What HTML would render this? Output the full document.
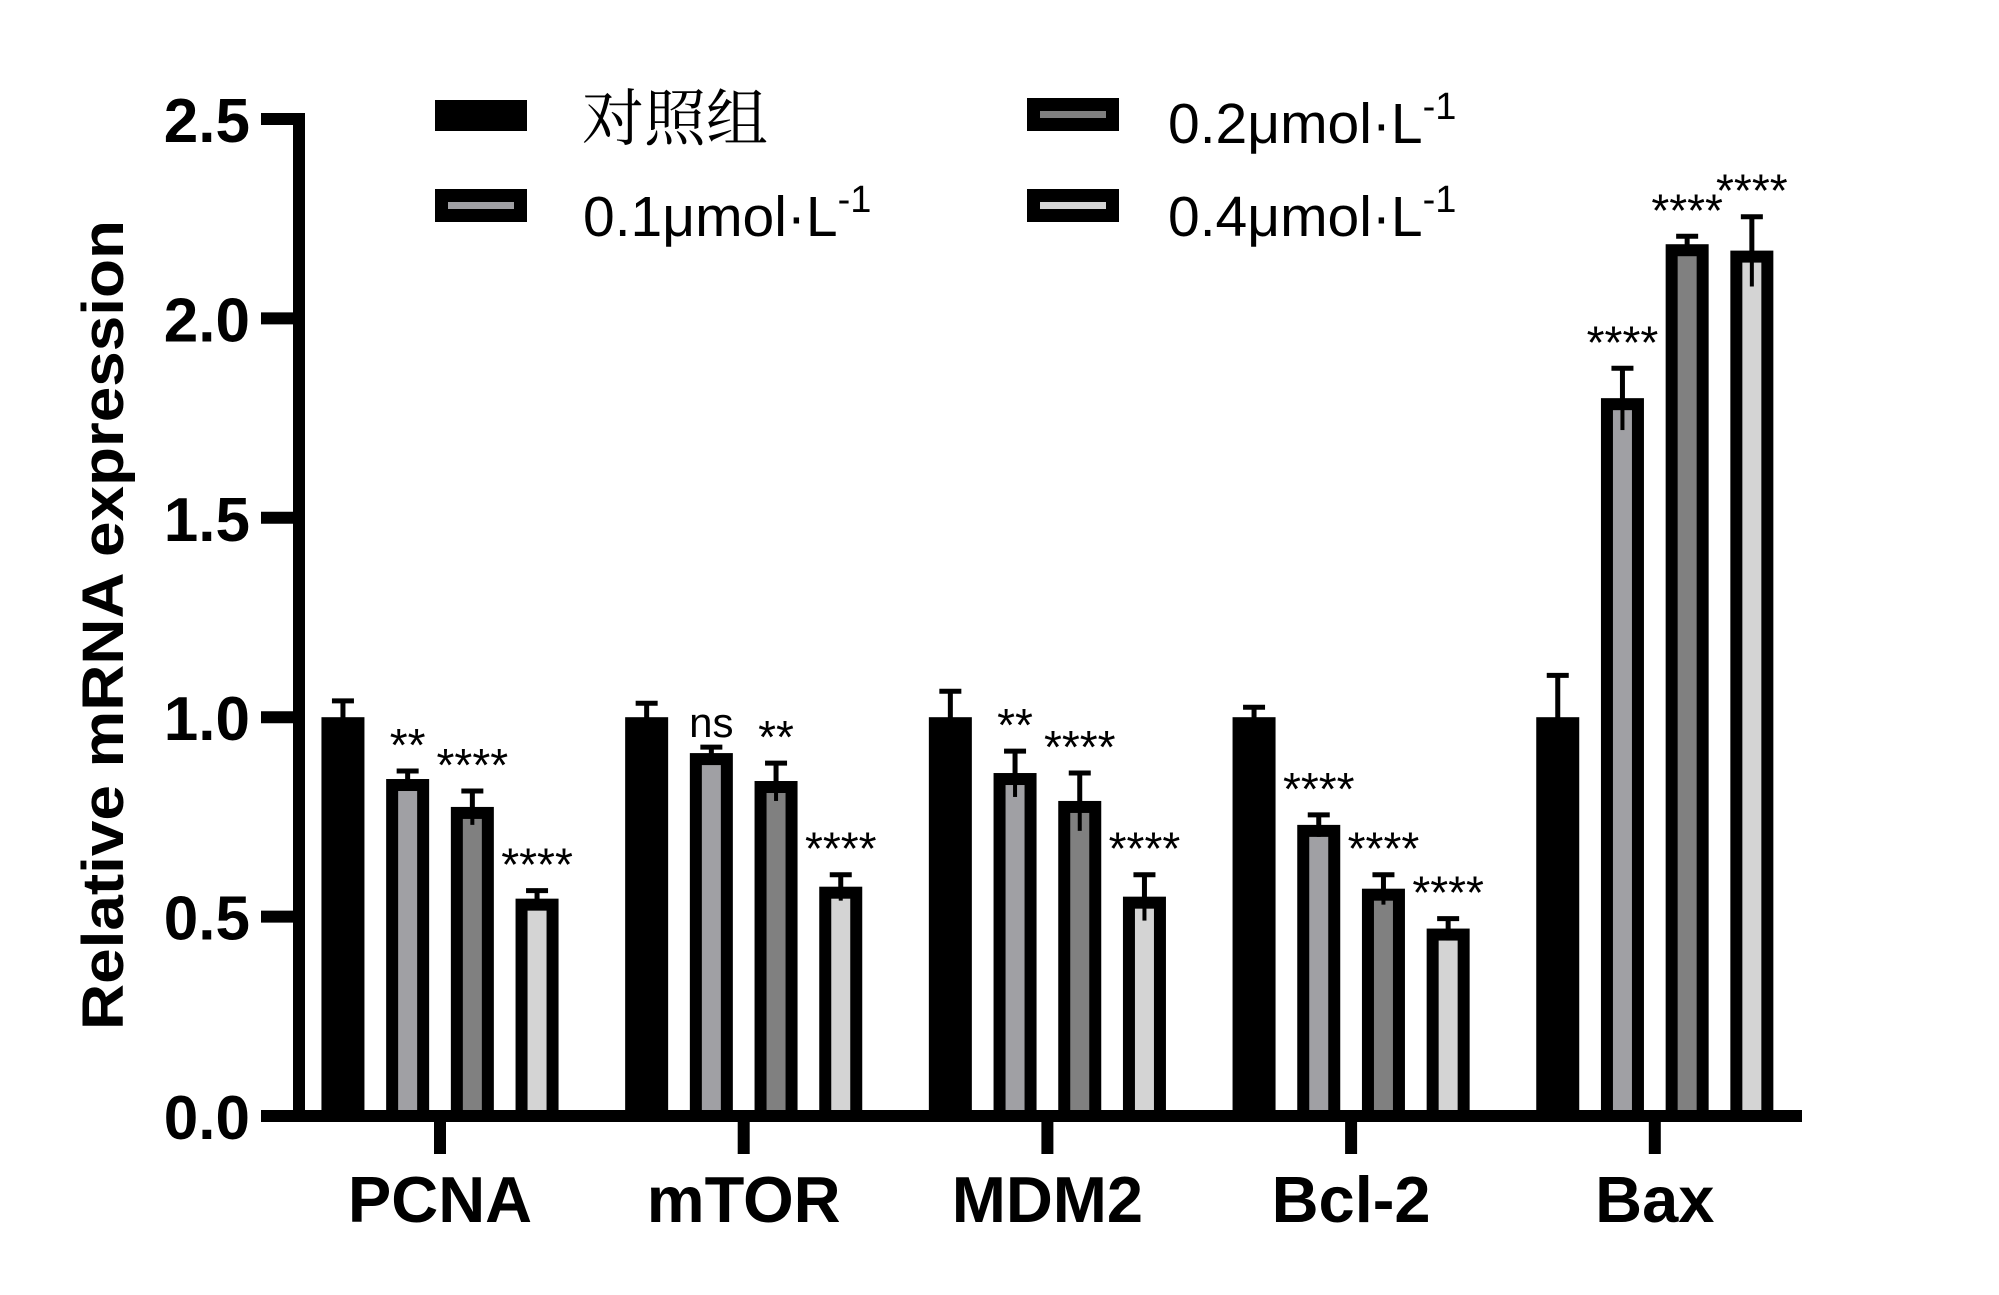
<!DOCTYPE html>
<html><head><meta charset="utf-8"><style>
html,body{margin:0;padding:0;background:#fff;}
svg{display:block;}
text{font-family:"Liberation Sans","Noto Sans CJK SC",sans-serif;}
</style></head><body>
<svg id="chart" width="1999" height="1295" viewBox="0 0 1999 1295" xmlns="http://www.w3.org/2000/svg">
<g id="plot"></g>
<text transform="translate(123,625) rotate(-90)" text-anchor="middle" font-weight="bold" font-size="58" textLength="810" lengthAdjust="spacingAndGlyphs">Relative mRNA expression</text>
<g>
<rect x="435" y="100" width="92" height="31" fill="#000"/>
<text x="582" y="140" font-size="62" style="font-family:'Noto Serif CJK SC',serif">对照组</text>
<rect x="435" y="189" width="92" height="33" fill="#000"/>
<rect x="448" y="202" width="66" height="7" fill="#a0a0a4"/>
<text x="583" y="236" font-size="57">0.1μmol·L<tspan dy="-24" font-size="38">-1</tspan></text>
<rect x="1027" y="98" width="92" height="33" fill="#000"/>
<rect x="1040" y="111" width="66" height="7" fill="#808080"/>
<text x="1168" y="143" font-size="57">0.2μmol·L<tspan dy="-24" font-size="38">-1</tspan></text>
<rect x="1027" y="189" width="92" height="33" fill="#000"/>
<rect x="1040" y="202" width="66" height="7" fill="#d4d4d4"/>
<text x="1168" y="236" font-size="57">0.4μmol·L<tspan dy="-24" font-size="38">-1</tspan></text>
</g>
</svg>
<script>
const categories = ["PCNA","mTOR","MDM2","Bcl-2","Bax"];
const seriesNames = ["control","0.1","0.2","0.4"];
const seriesFills = ["#000000","#a0a0a4","#808080","#d4d4d4"];
const controlValues = [1.0,1.0,1.0,1.0,1.0];
const controlErr = [0.046,0.04,0.07,0.03,0.11];
const dose01Values = [0.845,0.91,0.86,0.73,1.80];
const dose01Err = [0.025,0.02,0.06,0.03,0.08];
const dose02Values = [0.775,0.84,0.79,0.57,2.186];
const dose02Err = [0.045,0.05,0.075,0.04,0.025];
const dose04Values = [0.545,0.575,0.55,0.47,2.17];
const dose04Err = [0.025,0.035,0.06,0.03,0.09];
const dose01Sig = ["**","ns","**","****","****"];
const dose02Sig = ["****","**","****","****","****"];
const dose04Sig = ["****","****","****","****","****"];
const yTicks = [0,0.5,1.0,1.5,2.0,2.5];
const yTickLabels = ["0.0","0.5","1.0","1.5","2.0","2.5"];

const NS="http://www.w3.org/2000/svg";
const g=document.getElementById('plot');
const Y0=1116, PPU=398.8;
function yScale(v){return Y0-v*PPU;}
const X0=440, GROUP=303.7, PITCH=64.7, BW=43;
function xGroup(i){return X0+i*GROUP;}
function xBar(i,s){return xGroup(i)+(s-1.5)*PITCH;}
function el(t,a){const e=document.createElementNS(NS,t);for(const k in a)e.setAttribute(k,a[k]);g.appendChild(e);return e;}

const vals=[controlValues,dose01Values,dose02Values,dose04Values];
const errs=[controlErr,dose01Err,dose02Err,dose04Err];
const sigs=[null,dose01Sig,dose02Sig,dose04Sig];
for(let i=0;i<categories.length;i++){
  for(let s=0;s<4;s++){
    const v=vals[s][i], e=errs[s][i], cx=xBar(i,s);
    const top=yScale(v), et=yScale(v+e);
    const cap=el('line',{x1:cx-11,x2:cx+11,y1:et+2,y2:et+2,stroke:'#000','stroke-width':5});
    
    
    const wl=el('line',{x1:cx,x2:cx,y1:et,y2:top+1,stroke:'#000','stroke-width':5});
    
    
    const r=el('rect',{x:cx-BW/2,y:top,width:BW,height:Y0-top,fill:'#000'});
    
    
    if(s>0){
      const f=el('rect',{x:cx-BW/2+12,y:top+12,width:BW-24,height:Y0-top-12,fill:seriesFills[s]});
      
      
      const lw=el('line',{x1:cx,x2:cx,y1:top+10,y2:Math.min(yScale(v-e),Y0),stroke:'#000','stroke-width':4});
      
      
      const t=el('text',{x:cx,y:et-8,'text-anchor':'middle','font-size':sigs[s][i]==='ns'?42:46});
      t.textContent=sigs[s][i];
      
      
    }
  }
  const tk=el('line',{x1:xGroup(i),x2:xGroup(i),y1:Y0,y2:Y0+38,stroke:'#000','stroke-width':12});
  
  
  const cl=el('text',{x:xGroup(i),y:1222,'text-anchor':'middle','font-size':65,'font-weight':'bold'});
  cl.textContent=categories[i];
  
  
}
const xa=el('line',{x1:293,x2:1802,y1:Y0,y2:Y0,stroke:'#000','stroke-width':12});


const ya=el('line',{x1:299,x2:299,y1:yScale(2.5)-6,y2:Y0+6,stroke:'#000','stroke-width':12});


for(let k=0;k<yTicks.length;k++){
  const y=yScale(yTicks[k]);
  const t=el('line',{x1:261,x2:299,y1:y,y2:y,stroke:'#000','stroke-width':12});
  
  
  const l=el('text',{x:250,y:y+23,'text-anchor':'end','font-size':62,'font-weight':'bold'});
  l.textContent=yTickLabels[k];
  
  
}
</script>
</body></html>
